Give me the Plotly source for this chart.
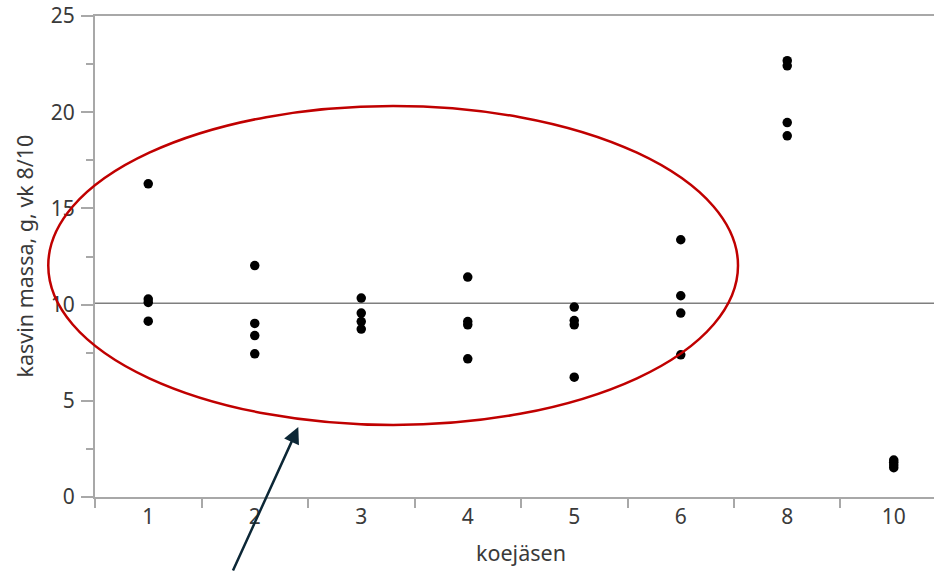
import plotly.graph_objects as go
import numpy as np

categories = ["1", "2", "3", "4", "5", "6", "8", "10"]
k1 = [16.28, 10.29, 10.11, 9.14]
k2 = [12.03, 9.02, 8.39, 7.44]
k3 = [10.34, 9.56, 9.12, 8.73]
k4 = [11.43, 9.12, 8.95, 7.18]
k5 = [9.87, 9.17, 8.95, 6.23]
k6 = [13.37, 10.46, 9.56, 7.39]
k8 = [22.68, 22.41, 19.46, 18.77]
k10 = [1.92, 1.80, 1.66, 1.52]
groups = [k1, k2, k3, k4, k5, k6, k8, k10]
y_ticks = [0, 5, 10, 15, 20, 25]

xs, ys = [], []
for c, g in zip(categories, groups):
    xs += [c] * len(g)
    ys += g
mean_val = float(np.mean(ys))

FONT = "Noto Sans"
TXT = "#3a3a3a"
AX = "#a8a8a8"

fig = go.Figure()
fig.add_trace(go.Scatter(x=xs, y=ys, mode="markers",
                         marker=dict(color="black", size=9.5),
                         showlegend=False, hoverinfo="skip"))

fig.update_layout(
    width=934, height=572, autosize=False,
    margin=dict(l=95, r=0, t=16, b=75),
    plot_bgcolor="white", paper_bgcolor="white",
    font=dict(family=FONT, color=TXT, size=21),
    xaxis=dict(type="category", categoryorder="array", categoryarray=categories,
               range=[-0.5, 7.378], tickson="boundaries", ticks="outside",
               ticklen=9, tickwidth=1.5, tickcolor=AX, showline=True, linecolor=AX,
               linewidth=2, mirror=True, showgrid=False, zeroline=False,
               tickfont=dict(size=21, color=TXT, family=FONT)),
    yaxis=dict(range=[0, 25], tickvals=y_ticks, ticks="outside", ticklen=12,
               tickwidth=1.5, tickcolor=AX, showline=True, linecolor=AX, linewidth=2,
               showgrid=False, zeroline=False, ticklabelstandoff=2,
               minor=dict(dtick=2.5, ticks="outside", ticklen=7, tickwidth=1.5,
                          tickcolor=AX, showgrid=False),
               tickfont=dict(size=21, color=TXT, family=FONT)),
)

fig.add_shape(type="line", xref="paper", x0=0, x1=1, yref="y", y0=mean_val, y1=mean_val,
              line=dict(color="#7f7f7f", width=1.5), layer="below")

fig.add_shape(type="circle", xref="paper", yref="paper",
              x0=-0.0557, x1=0.7664, y0=0.1497, y1=0.8129,
              line=dict(color="#c00000", width=2.5), layer="above")

fig.add_annotation(xref="paper", yref="paper", x=0.2423, y=0.1455, text="",
                   showarrow=True, arrowhead=2, arrowsize=1.3, arrowwidth=2.5,
                   arrowcolor="#0c2736", ax=-66, ay=162, standoff=0)

fig.add_annotation(xref="x", yref="paper", x=3.5, y=-0.1164, text="koejäsen",
                   showarrow=False, yanchor="middle", xanchor="center",
                   font=dict(size=21.5, color=TXT, family=FONT))
fig.add_annotation(xref="paper", yref="paper", x=-0.0846, y=0.5,
                   text="kasvin massa, g, vk 8/10", textangle=-90,
                   showarrow=False, xanchor="center", yanchor="middle",
                   font=dict(size=21.5, color=TXT, family=FONT))

fig.write_html("out.html")
